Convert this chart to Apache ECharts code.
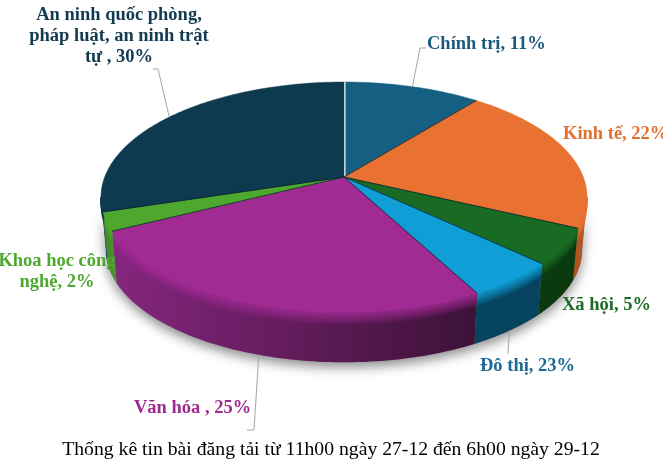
<!DOCTYPE html>
<html>
<head>
<meta charset="utf-8">
<style>
  html, body { margin: 0; padding: 0; background: #fff; }
  #chart { width: 663px; height: 467px; }
</style>
<script src="https://cdn.jsdelivr.net/npm/echarts@6/dist/echarts.min.js"></script>
</head>
<body>
<div id="chart"></div>
<script>
  var categories = ['Chính trị', 'Kinh tế', 'Xã hội', 'Đô thị', 'Văn hóa ', 'Khoa học công\nnghệ', 'An ninh quốc phòng,\npháp luật, an ninh trật\ntự '];
  // how big each slice is drawn
  var sliceValues = [10.8, 21.2, 5, 5.2, 25.4, 2.6, 29.8];
  // what the printed label says (Đô thị really is printed 23%)
  var labelValues = [11, 22, 5, 23, 25, 2, 30];
  var chartTitle = 'Thống kê tin bài đăng tải từ 11h00 ngày 27-12 đến 6h00 ngày 29-12';

  // styles
  var topColors = ['#156082', '#e97132', '#196b24', '#0f9ed5', '#a02b93', '#4ea72e', '#0e3a4f'];
  var textColors = ['#1b5a7d', '#e2702f', '#1d6b27', '#1e6a96', '#9e2a8e', '#4ea72e', '#123a50'];
  var wallColors = [
    ['#0f4660', '#0f4660'], ['#a8521f', '#b85c24'], ['#0c3a0f', '#0c3a0f'], ['#06435f', '#06435f'],
    ['#86267e', '#3c1238'], ['#3f8a25', '#46952a'], ['#0e3a4f', '#0e3a4f']
  ];
  // label layout: x, y, align and the leader line bend (null = no leader)
  var labelSpots = [
    { x: 427, y: 44, align: 'left', bend: [[420, 48], [426, 48]] },
    { x: 563, y: 134, align: 'left' },
    { x: 562, y: 305, align: 'left' },
    { x: 480, y: 366, align: 'left', bend: [[508, 354]], low: true },
    { x: 134, y: 408, align: 'left', bend: [[254, 430], [247, 430]], low: true },
    { x: 57, y: 272, align: 'center' },
    { x: 119, y: 36, align: 'center', bend: [[158, 69], [153, 69]] }
  ];

  // perspective disc: apex of the slices and the squashed circle round it
  var apexX = 344, apexY = 177, radX = 239.3, radY = 111.5, persp = 0.174;
  var depthX = 344, depthY = 230, depthScale = 0.98;
  var wallFrom = Math.acos(-persp), wallTo = 2 * Math.PI - wallFrom;

  var total = sliceValues.reduce(function (a, b) { return a + b }, 0);
  var angles = [0];
  sliceValues.forEach(function (v, i) { angles.push(angles[i] + v / total * 2 * Math.PI) });

  function rim(t) {
    var d = 1 + persp * Math.cos(t);
    return [apexX + radX * Math.sin(t) / d, apexY - radY * Math.cos(t) / d];
  }
  // f = 0 top edge of the wall, f = 1 bottom edge
  function wallPoint(t, f) {
    var p = rim(t);
    var bx = depthX + (p[0] - apexX) * depthScale, by = depthY + (p[1] - apexY) * depthScale;
    return [p[0] + (bx - p[0]) * f, p[1] + (by - p[1]) * f];
  }
  function arcPoints(a, b, fn) {
    var n = Math.max(2, Math.ceil((b - a) / 0.02)), out = [];
    for (var i = 0; i <= n; i++) out.push(fn(a + (b - a) * i / n));
    return out;
  }
  function wallPolygon(a, b) {
    var up = arcPoints(a, b, function (t) { return wallPoint(t, 0) });
    var down = arcPoints(a, b, function (t) { return wallPoint(t, 1) }).reverse();
    return up.concat(down);
  }
  function visibleWall(i) {
    var a = Math.max(angles[i], wallFrom), b = Math.min(angles[i + 1], wallTo);
    return b > a ? [a, b] : null;
  }

  function renderShadow(params) {
    var w = visibleWall(params.dataIndex);
    if (!w) return { type: 'group', children: [] };
    return {
      type: 'polygon', shape: { points: wallPolygon(w[0], w[1]) },
      style: { fill: '#888', shadowBlur: 12, shadowOffsetY: 5, shadowOffsetX: 0, shadowColor: 'rgba(0,0,0,0.45)' }
    };
  }

  function renderWall(params) {
    var i = params.dataIndex, w = visibleWall(i), kids = [];
    if (!w) return { type: 'group', children: kids };
    kids.push({
      type: 'polygon', shape: { points: wallPolygon(w[0], w[1]) },
      style: {
        fill: new echarts.graphic.LinearGradient(0, 0, 1, 0, [
          { offset: 0, color: wallColors[i][0] }, { offset: 1, color: wallColors[i][1] }
        ])
      }
    });
    // soft bevel just under the rim
    for (var k = 0; k < 9; k++) {
      (function (f, op) {
        kids.push({
          type: 'polyline',
          shape: { points: arcPoints(w[0], w[1], function (t) { return wallPoint(t, f) }) },
          style: { stroke: topColors[i], lineWidth: 2, fill: null, opacity: op }
        });
      })(k * 0.03, 0.85 * (1 - k / 9));
    }
    return { type: 'group', children: kids };
  }

  function renderTop(params) {
    var i = params.dataIndex;
    var pts = [[apexX, apexY]].concat(arcPoints(angles[i], angles[i + 1], rim));
    return {
      type: 'group',
      children: [
        { type: 'polygon', shape: { points: pts }, style: { fill: topColors[i], stroke: topColors[i], lineWidth: 0.5 } },
        {
          type: 'line',
          shape: { x1: apexX, y1: apexY, x2: pts[1][0], y2: pts[1][1] },
          style: { stroke: i === 0 ? '#fff' : 'rgba(5,30,40,0.8)', lineWidth: i === 0 ? 3 : 1 }
        }
      ]
    };
  }

  function renderLabel(params, api) {
    var i = params.dataIndex, spot = labelSpots[i], kids = [];
    if (spot.bend) {
      var mid = (angles[i] + angles[i + 1]) / 2;
      kids.push({
        type: 'polyline',
        shape: { points: [spot.low ? wallPoint(mid, 1) : rim(mid)].concat(spot.bend) },
        style: { stroke: '#a6a6a6', lineWidth: 1, fill: null }
      });
    }
    kids.push({
      type: 'text',
      style: {
        x: spot.x, y: spot.y, text: categories[i] + ', ' + labelValues[i] + '%',
        align: spot.align, verticalAlign: 'middle', fill: textColors[i],
        font: 'bold 18.5px "Liberation Serif"', lineHeight: 21
      }
    });
    return { type: 'group', children: kids };
  }

  function layer(fn, z) {
    return { type: 'custom', coordinateSystem: 'none', renderItem: fn, data: sliceValues, z: z, silent: true, animation: false };
  }

  var myChart = echarts.init(document.getElementById('chart'), null, { renderer: 'canvas' });
  myChart.setOption({
    backgroundColor: '#fff',
    animation: false,
    title: {
      text: chartTitle, left: 326, textAlign: 'center', top: 435,
      textStyle: { fontFamily: 'Liberation Serif', fontWeight: 'normal', fontSize: 19.7, color: '#000' }
    },
    series: [layer(renderShadow, 2), layer(renderWall, 3), layer(renderTop, 4), layer(renderLabel, 5)]
  });
</script>
</body>
</html>
